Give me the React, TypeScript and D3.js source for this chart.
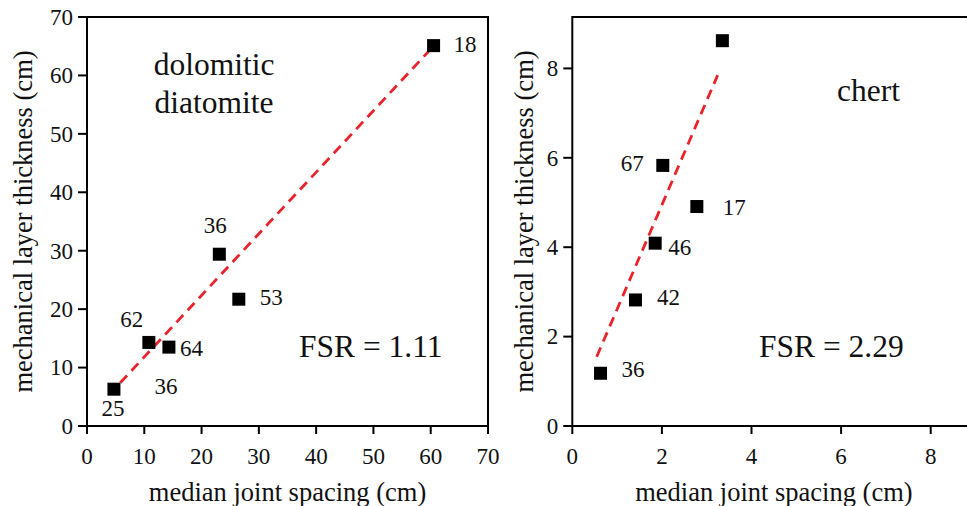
import React from 'react';
import * as d3 from 'd3';

// ---------- Left panel: dolomitic diatomite ----------
const diatomiteSpacing = [60.5, 23.1, 26.5, 10.8, 14.3, 4.7];
const diatomiteThickness = [65.1, 29.4, 21.7, 14.3, 13.5, 6.3];
const diatomiteCounts = ['18', '36', '53', '62', '64', '25'];
const diatomiteExtraLabel = '36';
const diatomiteFitX = [5.8, 59.9];
const diatomiteFitY = [7.4, 64.4];
const diatomiteTicks = [0, 10, 20, 30, 40, 50, 60, 70];
const diatomiteTitle = ['dolomitic', 'diatomite'];
const diatomiteFSR = 'FSR = 1.11';

// ---------- Right panel: chert ----------
const chertSpacing = [3.35, 2.02, 2.78, 1.85, 1.41, 0.63];
const chertThickness = [8.62, 5.83, 4.91, 4.09, 2.82, 1.18];
const chertCounts = ['', '67', '17', '46', '42', '36'];
const chertFitX = [0.545, 3.245];
const chertFitY = [1.55, 7.85];
const chertTicks = [0, 2, 4, 6, 8];
const chertTitle = ['chert'];
const chertFSR = 'FSR = 2.29';

const xTitle = 'median joint spacing (cm)';
const yTitle = 'mechanical layer thickness (cm)';

const FONT = '"Liberation Serif", "Times New Roman", Times, serif';
const RED = '#e8232b';

type LabelPos = { dx: number; dy: number; anchor: 'start' | 'middle' | 'end' };

const leftLabelPos: LabelPos[] = [
  { dx: 20, dy: 6.5, anchor: 'start' },
  { dx: -4, dy: -21, anchor: 'middle' },
  { dx: 21, dy: 6, anchor: 'start' },
  { dx: -17, dy: -15, anchor: 'middle' },
  { dx: 11, dy: 8.7, anchor: 'start' },
  { dx: -1, dy: 27, anchor: 'middle' },
];
const leftExtraPos = { idx: 4, dx: -3, dy: 46.7 };

const rightLabelPos: LabelPos[] = [
  { dx: 0, dy: 0, anchor: 'start' },
  { dx: -19, dy: 5.5, anchor: 'end' },
  { dx: 26, dy: 8, anchor: 'start' },
  { dx: 13, dy: 11.7, anchor: 'start' },
  { dx: 21.6, dy: 5, anchor: 'start' },
  { dx: 21, dy: 3.4, anchor: 'start' },
];

interface PanelProps {
  xs: number[];
  ys: number[];
  counts: string[];
  labelPos: LabelPos[];
  fitX: number[];
  fitY: number[];
  ticks: number[];
  xDomain: [number, number];
  yDomain: [number, number];
  xRange: [number, number];
  yRange: [number, number];
  titleLines: string[];
  titleX: number;
  titleY: number;
  titleAnchor: 'start' | 'middle';
  fsr: string;
  fsrX: number;
  fsrY: number;
  yTitleX: number;
  extra?: React.ReactNode;
}

function Panel(p: PanelProps) {
  const x = d3.scaleLinear().domain(p.xDomain).range(p.xRange);
  const y = d3.scaleLinear().domain(p.yDomain).range(p.yRange);
  const [x0, x1] = p.xRange;
  const [y0, y1] = p.yRange; // y0 bottom, y1 top
  const line = d3.line<number>().x((_, i) => x(p.fitX[i])).y((_, i) => y(p.fitY[i]));
  const sq = 13;
  return (
    <g>
      {/* fit line */}
      <path d={line(p.fitX) || ''} fill="none" stroke={RED} strokeWidth={2.8} strokeDasharray="10 6.5" />
      {/* frame */}
      <rect x={x0} y={y1} width={x1 - x0} height={y0 - y1} fill="none" stroke="#000" strokeWidth={2} />
      {/* x ticks */}
      {p.ticks.map((t) => (
        <g key={'xt' + t}>
          <line x1={x(t)} x2={x(t)} y1={y0} y2={y0 + 8} stroke="#000" strokeWidth={2} />
          <text x={x(t)} y={y0 + 38} textAnchor="middle" fontSize={23} fill="#111">
            {t}
          </text>
        </g>
      ))}
      {/* y ticks */}
      {p.ticks.map((t) => (
        <g key={'yt' + t}>
          <line x1={x0 - 9} x2={x0} y1={y(t)} y2={y(t)} stroke="#000" strokeWidth={2} />
          <text x={x0 - 14} y={y(t)} dy="0.34em" textAnchor="end" fontSize={23} fill="#111">
            {t}
          </text>
        </g>
      ))}
      {/* axis titles */}
      <text x={(x0 + x1) / 2} y={501} textAnchor="middle" fontSize={26.5} fill="#111">
        {xTitle}
      </text>
      <text
        transform={`translate(${p.yTitleX},${(y0 + y1) / 2}) rotate(-90)`}
        textAnchor="middle"
        fontSize={26.5}
        fill="#111"
      >
        {yTitle}
      </text>
      {/* points */}
      {p.xs.map((v, i) => (
        <rect key={'pt' + i} x={x(v) - sq / 2} y={y(p.ys[i]) - sq / 2} width={sq} height={sq} fill="#000" />
      ))}
      {/* labels */}
      {p.counts.map((c, i) =>
        c ? (
          <text
            key={'lb' + i}
            x={x(p.xs[i]) + p.labelPos[i].dx}
            y={y(p.ys[i]) + p.labelPos[i].dy}
            textAnchor={p.labelPos[i].anchor}
            fontSize={23}
            fill="#111"
          >
            {c}
          </text>
        ) : null
      )}
      {p.extra}
      {/* title */}
      {p.titleLines.map((s, i) => (
        <text key={'tt' + i} x={p.titleX} y={p.titleY + i * 38} textAnchor={p.titleAnchor} fontSize={31.5} fill="#111">
          {s}
        </text>
      ))}
      <text x={p.fsrX} y={p.fsrY} fontSize={31.5} fill="#111">
        {p.fsr}
      </text>
    </g>
  );
}

export default function App() {
  const lx = d3.scaleLinear().domain([0, 70]).range([87, 488]);
  const ly = d3.scaleLinear().domain([0, 70]).range([426, 17]);
  const extraLabel = (
    <text
      x={lx(diatomiteSpacing[leftExtraPos.idx]) + leftExtraPos.dx}
      y={ly(diatomiteThickness[leftExtraPos.idx]) + leftExtraPos.dy}
      textAnchor="middle"
      fontSize={23}
      fill="#111"
    >
      {diatomiteExtraLabel}
    </text>
  );
  return (
    <svg
      width={967}
      height={506}
      style={{ position: 'absolute', left: 0, top: 0, background: '#fff' }}
      fontFamily={FONT}
    >
      <rect width={967} height={506} fill="#fff" />
      <Panel
        xs={diatomiteSpacing}
        ys={diatomiteThickness}
        counts={diatomiteCounts}
        labelPos={leftLabelPos}
        fitX={diatomiteFitX}
        fitY={diatomiteFitY}
        ticks={diatomiteTicks}
        xDomain={[0, 70]}
        yDomain={[0, 70]}
        xRange={[87, 488]}
        yRange={[426, 17]}
        titleLines={diatomiteTitle}
        titleX={214}
        titleY={75}
        titleAnchor="middle"
        fsr={diatomiteFSR}
        fsrX={299}
        fsrY={356.5}
        yTitleX={32}
        extra={extraLabel}
      />
      <Panel
        xs={chertSpacing}
        ys={chertThickness}
        counts={chertCounts}
        labelPos={rightLabelPos}
        fitX={chertFitX}
        fitY={chertFitY}
        ticks={chertTicks}
        xDomain={[0, 9]}
        yDomain={[0, 9.15]}
        xRange={[572.3, 975.5]}
        yRange={[426, 17]}
        titleLines={chertTitle}
        titleX={837}
        titleY={101}
        titleAnchor="start"
        fsr={chertFSR}
        fsrX={759}
        fsrY={356.5}
        yTitleX={533}
      />
    </svg>
  );
}
